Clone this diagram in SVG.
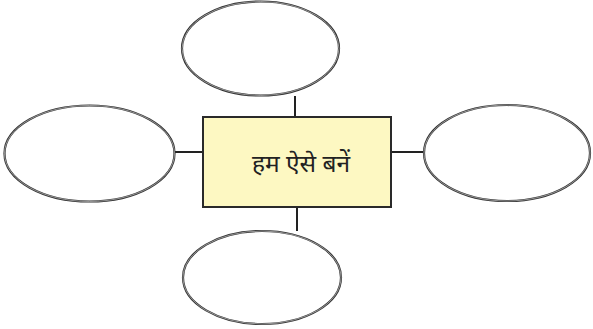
<svg xmlns="http://www.w3.org/2000/svg" width="593" height="329" viewBox="0 0 593 329">
<style>
.o{fill:#fff;stroke:#333;stroke-width:2.2}
.i{fill:none;stroke:#d8d8d8;stroke-width:0.6}
.c{stroke:#222;stroke-width:2;fill:none}
.t{font-family:"Noto Sans","Lohit Devanagari",sans-serif;font-size:24.5px;fill:#222}
</style>
<rect width="593" height="329" fill="#fff"/>
<g id="connectors">
<line class="c" x1="295" y1="96" x2="295" y2="117"/>
<line class="c" x1="297" y1="207" x2="297" y2="231"/>
<line class="c" x1="172" y1="152" x2="203" y2="152"/>
<line class="c" x1="391" y1="152" x2="424" y2="152"/>
</g>
<g id="top">
<ellipse class="o" cx="260.5" cy="48.5" rx="78.5" ry="47"/>
<ellipse class="i" cx="260.5" cy="48.5" rx="78.5" ry="47"/>
</g>
<g id="left">
<ellipse class="o" cx="89.5" cy="153.5" rx="85" ry="48"/>
<ellipse class="i" cx="89.5" cy="153.5" rx="85" ry="48"/>
</g>
<g id="right">
<ellipse class="o" cx="507" cy="153" rx="83" ry="48"/>
<ellipse class="i" cx="507" cy="153" rx="83" ry="48"/>
</g>
<g id="bottom">
<ellipse class="o" cx="262" cy="277.5" rx="79" ry="46.5"/>
<ellipse class="i" cx="262" cy="277.5" rx="79" ry="46.5"/>
</g>
<g id="center">
<rect x="203" y="117" width="188" height="90" fill="#fdf8c2" stroke="#2a2a2a" stroke-width="2"/>
<text class="t" x="301" y="172" text-anchor="middle">हम ऐसे बनें</text>
</g>
</svg>
